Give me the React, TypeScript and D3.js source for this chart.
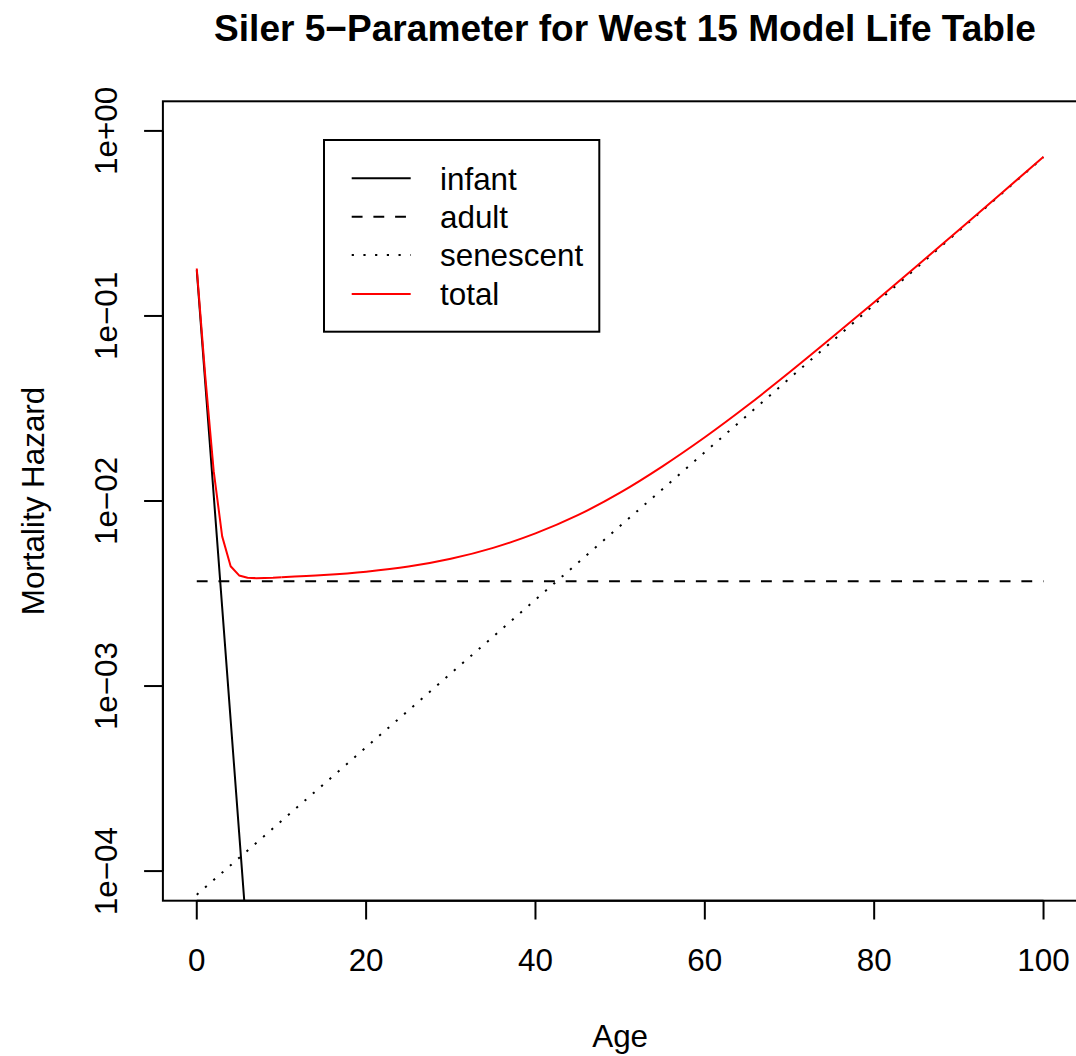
import React from "react";
import * as d3 from "d3";

// ---- data ----
const totalAges = [0, 1, 2, 3, 4, 5, 6, 7, 8, 9, 10, 15, 20, 25, 30, 35, 40, 45, 50, 55, 60, 65, 70, 75, 80, 85, 90, 95, 100];
const totalHazard = [0.1804, 0.0474, 0.0145, 0.00644, 0.00444, 0.00396, 0.00385, 0.00383, 0.00384, 0.00385, 0.00387, 0.00398, 0.00415, 0.00442, 0.00487, 0.00558, 0.00668, 0.00838, 0.0111, 0.0154, 0.0221, 0.0327, 0.0496, 0.0764, 0.1187, 0.1857, 0.2916, 0.4593, 0.7248];

const infantAges = [0, 1, 2, 3, 4, 5, 6];
const infantHazard = [0.1766, 0.0436, 0.01076, 0.00266, 0.000656, 0.000162, 0.00004];

const adultAges = [0, 100];
const adultHazard = [0.00368, 0.00368];

const senescentAges = [0, 100];
const senescentHazard = [0.0000745, 0.721];

const xTicks = [0, 20, 40, 60, 80, 100];
const yTicks = [1e-4, 1e-3, 1e-2, 1e-1, 1];
const yTickLabels = ["1e\u221204", "1e\u221203", "1e\u221202", "1e\u221201", "1e+00"];

const legendLabels = ["infant", "adult", "senescent", "total"];

const title = "Siler 5\u2212Parameter for West 15 Model Life Table";
const xLabel = "Age";
const yLabel = "Mortality Hazard";

// ---- layout ----
const W = 1076;
const H = 1056;
const plotL = 162.9;
const plotR = 1077.4;
const plotT = 101.3;
const plotB = 900.7;
const FONT = "'Liberation Sans', Arial, Helvetica, sans-serif";
const FS = 31.4;

const xLim = [0, 100];
const yLim = [1e-4, 1];

export default function App() {
  const xExt = (xLim[1] - xLim[0]) * 0.04;
  const x = d3.scaleLinear().domain([xLim[0] - xExt, xLim[1] + xExt]).range([plotL, plotR]);
  const ly0 = Math.log10(yLim[0]);
  const ly1 = Math.log10(yLim[1]);
  const yExt = (ly1 - ly0) * 0.04;
  const y = d3.scaleLog().domain([Math.pow(10, ly0 - yExt), Math.pow(10, ly1 + yExt)]).range([plotB, plotT]);

  const mk = (ages: number[], vals: number[], curve: d3.CurveFactory = d3.curveLinear) =>
    d3.line<number>().curve(curve).x((_, i) => x(ages[i])).y((v) => y(v))(vals) || "";

  // total: sampled yearly near birth (kinked), smooth afterwards
  const split = totalAges.indexOf(10);
  const totalEarly = mk(totalAges.slice(0, split + 1), totalHazard.slice(0, split + 1));
  const totalLate = mk(totalAges.slice(split), totalHazard.slice(split), d3.curveMonotoneX);

  const series = [
    { d: mk(infantAges, infantHazard), color: "#000", dash: undefined as string | undefined },
    { d: mk(adultAges, adultHazard), color: "#000", dash: "10.85 10.85" },
    { d: mk(senescentAges, senescentHazard), color: "#000", dash: "2.2 8.8" },
    { d: totalEarly, color: "#FF0000", dash: undefined },
    { d: totalLate, color: "#FF0000", dash: undefined },
  ];

  const legL = 324;
  const legT = 140;
  const legW = 275.3;
  const legH = 191.7;
  const rowY = [178.3, 216.7, 255, 294];
  const legColors = ["#000", "#000", "#000", "#FF0000"];
  const legDash = [undefined, "10.85 10.85", "2.2 9.5", undefined];

  return (
    <svg width={W} height={H} style={{ position: "absolute", left: 0, top: 0, background: "#fff" }} fontFamily={FONT}>
      <rect x={0} y={0} width={W} height={H} fill="#fff" />
      <defs>
        <clipPath id="plotclip">
          <rect x={plotL} y={plotT} width={plotR - plotL} height={plotB - plotT} />
        </clipPath>
      </defs>
      <g clipPath="url(#plotclip)">
        {series.map((s, i) => (
          <path key={i} d={s.d} fill="none" stroke={s.color} strokeWidth={2} strokeDasharray={s.dash} strokeLinejoin="round" />
        ))}
      </g>
      {/* box */}
      <rect x={plotL} y={plotT} width={plotR - plotL} height={plotB - plotT} fill="none" stroke="#000" strokeWidth={2} />
      {/* x axis */}
      <line x1={x(xTicks[0])} x2={x(xTicks[xTicks.length - 1])} y1={plotB} y2={plotB} stroke="#000" strokeWidth={2} />
      {xTicks.map((t) => (
        <g key={t}>
          <line x1={x(t)} x2={x(t)} y1={plotB} y2={plotB + 18.8} stroke="#000" strokeWidth={2} />
          <text x={x(t)} y={971} textAnchor="middle" fontSize={FS}>{t}</text>
        </g>
      ))}
      {/* y axis */}
      <line x1={plotL} x2={plotL} y1={y(yTicks[0])} y2={y(yTicks[yTicks.length - 1])} stroke="#000" strokeWidth={2} />
      {yTicks.map((t, i) => (
        <g key={t}>
          <line x1={plotL - 18.8} x2={plotL} y1={y(t)} y2={y(t)} stroke="#000" strokeWidth={2} />
          <text transform={`translate(117,${y(t)}) rotate(-90)`} textAnchor="middle" fontSize={FS}>{yTickLabels[i]}</text>
        </g>
      ))}
      {/* labels */}
      <text x={(plotL + plotR) / 2} y={1046.7} textAnchor="middle" fontSize={FS}>{xLabel}</text>
      <text transform={`translate(43.7,${(plotT + plotB) / 2}) rotate(-90)`} textAnchor="middle" fontSize={FS}>{yLabel}</text>
      <text x={625} y={40.5} textAnchor="middle" fontSize={37.1} fontWeight="bold">{title}</text>
      {/* legend */}
      <rect x={legL} y={legT} width={legW} height={legH} fill="#fff" stroke="#000" strokeWidth={2} />
      {legendLabels.map((lab, i) => (
        <g key={lab}>
          <line x1={351.7} x2={410.7} y1={rowY[i]} y2={rowY[i]} stroke={legColors[i]} strokeWidth={2} strokeDasharray={legDash[i]} />
          <text x={440} y={rowY[i] + 11.4} fontSize={FS}>{lab}</text>
        </g>
      ))}
    </svg>
  );
}
